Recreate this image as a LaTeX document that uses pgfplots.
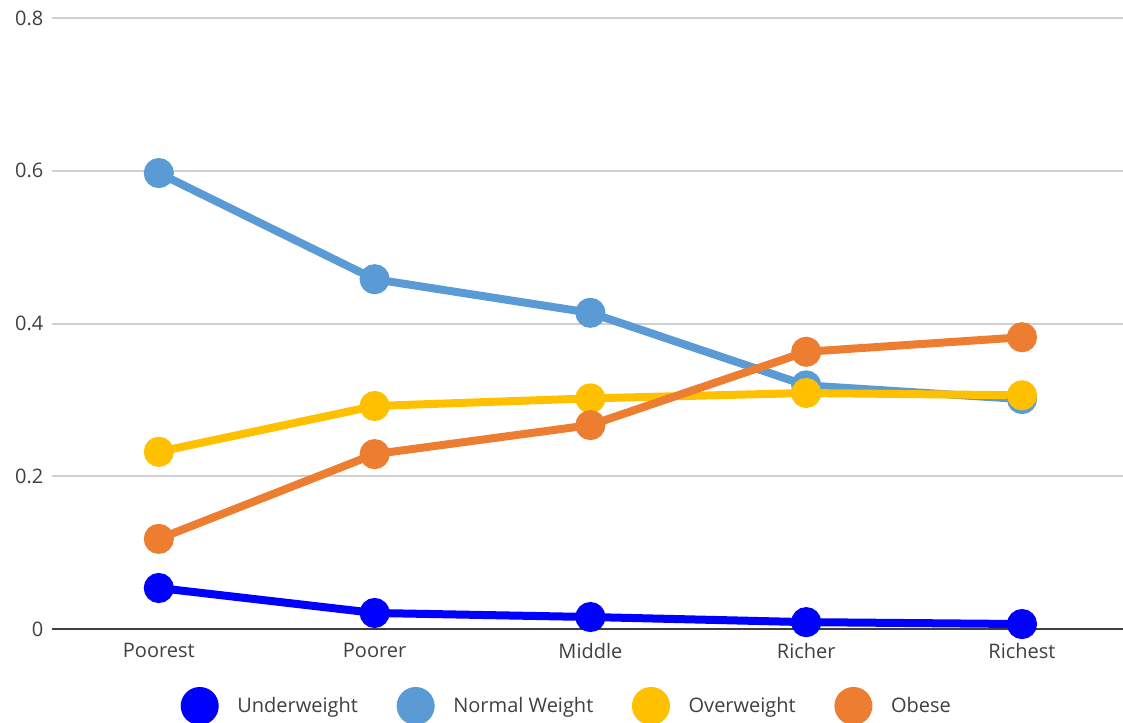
\documentclass[border=0pt]{standalone}
\usepackage{pgfplots}
\pgfplotsset{compat=1.18}
\usepackage{fontspec}
\setmainfont{Open Sans}
\definecolor{cUnder}{HTML}{0000FF}
\definecolor{cNormal}{HTML}{5B9BD5}
\definecolor{cOver}{HTML}{FFC000}
\definecolor{cObese}{HTML}{ED7D31}
\definecolor{gridc}{HTML}{D0D0D0}
\definecolor{txt}{HTML}{404040}
\begin{document}
\begin{tikzpicture}
\useasboundingbox (-39pt,-69.75pt) rectangle (803.25pt,471.75pt);
\begin{axis}[
  at={(0,0)}, anchor=south west,
  scale only axis, width=803.25pt, height=458.25pt,
  xmin=-0.495, xmax=4.468, ymin=0, ymax=0.8,
  xtick={0,1,2,3,4},
  xticklabels={Poorest,Poorer,Middle,Richer,Richest},
  ytick={0,0.2,0.4,0.6,0.8},
  yticklabels={0,0.2,0.4,0.6,0.8},
  axis line style={draw=none},
  major tick length=0pt,
  xmajorgrids=false, ymajorgrids=true, grid style={draw=gridc, line width=1.5pt},
  tick label style={font=\fontsize{15}{17}\selectfont, text=txt},
  yticklabel style={xshift=-3pt},
  xticklabel style={yshift=-7pt},
  clip=false,
  legend columns=4,
  legend style={at={(0.481,-0.126)}, anchor=center, draw=none, font=\fontsize{15}{17}\selectfont, text=txt,
    /tikz/every odd column/.append style={column sep=12pt},
    /tikz/every even column/.append style={column sep=27pt}},
  legend image code/.code={\fill[#1] (0.3cm,0cm) circle (11.25pt);},
  every axis plot/.append style={line width=6pt, mark=*, mark size=8.25pt},
]
\draw[txt, line width=1.5pt] (axis cs:-0.495,0) -- (axis cs:4.468,0);
\addplot[cUnder, mark options={fill=cUnder}] coordinates {(0,0.0537) (1,0.021) (2,0.0157) (3,0.009) (4,0.0065)};
\addlegendentry{Underweight}
\addplot[cNormal, mark options={fill=cNormal}] coordinates {(0,0.597) (1,0.458) (2,0.414) (3,0.319) (4,0.301)};
\addlegendentry{Normal Weight}
\addplot[cOver, mark options={fill=cOver}] coordinates {(0,0.232) (1,0.292) (2,0.302) (3,0.309) (4,0.306)};
\addlegendentry{Overweight}
\addplot[cObese, mark options={fill=cObese}] coordinates {(0,0.118) (1,0.229) (2,0.267) (3,0.363) (4,0.382)};
\addlegendentry{Obese}
\end{axis}
\end{tikzpicture}
\end{document}
